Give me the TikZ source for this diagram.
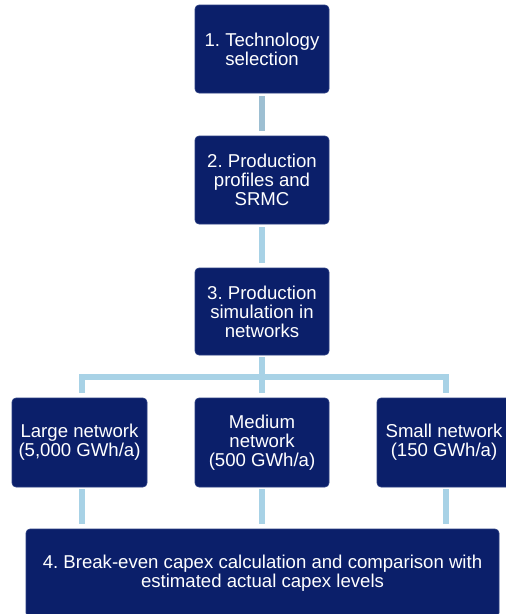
\documentclass[tikz,border=0pt]{standalone}
\usepackage{fontspec}
\setmainfont{Liberation Sans}
\frenchspacing
\definecolor{navy}{HTML}{0B1F6A}
\definecolor{navyedge}{HTML}{2A3E82}
\definecolor{connA}{HTML}{9DBFD2}
\definecolor{connB}{HTML}{A8D2E6}
\begin{document}
\begin{tikzpicture}[x=1pt,y=-1pt,
  stepbox/.style={draw=navyedge, line width=0.6pt, fill=navy, rounded corners=4pt,
    text=white, align=center, inner sep=0pt, minimum width=134pt, minimum height=88pt,
    font=\fontsize{18.6}{19}\selectfont\frenchspacing},
  conn/.style={line width=6pt, connB, line cap=butt},
  connTop/.style={line width=6pt, connA, line cap=butt}]
\useasboundingbox (0,0) rectangle (506,614);
\clip (0,0) rectangle (506,614);
\node[stepbox] (b1) at (262,49) {1. Technology\\selection};
\node[stepbox] (b2) at (262,180) {2. Production\\profiles and\\SRMC};
\node[stepbox, minimum height=87pt] (b3) at (262,311.5) {3. Production\\simulation in\\networks};
\node[stepbox, minimum width=135pt, minimum height=89pt] (large) at (79.5,442.5) {Large network\\(5,000 GWh/a)};
\node[stepbox, minimum height=89pt] (medium) at (262,442.5) {Medium\\network\\(500 GWh/a)};
\node[stepbox, minimum height=89pt] (small) at (444,442.5) {Small network\\(150 GWh/a)};
\node[stepbox, minimum width=473pt, minimum height=88pt] (b4) at (262.5,573) {4. Break-even capex calculation and comparison with\\estimated actual capex levels};
\coordinate (hb) at (262,377);
% vertical connectors
\draw[connTop] ([yshift=-3pt]b1.south) -- ([yshift=5pt]b2.north);
\draw[conn] ([yshift=-3pt]b2.south) -- ([yshift=5pt]b3.north);
% tree
\draw[conn] ([yshift=-2pt]b3.south) -- ([yshift=5pt]medium.north);
\draw[conn, line join=miter] ([xshift=2pt,yshift=5pt]large.north) |- (hb) -| ([xshift=2pt,yshift=5pt]small.north);
% drops to box 4
\draw[conn] ([xshift=2pt,yshift=-2pt]large.south) -- ([xshift=2pt,yshift=5pt]large.south |- b4.north);
\draw[conn] ([yshift=-2pt]medium.south) -- ([yshift=5pt]medium.south |- b4.north);
\draw[conn] ([xshift=2pt,yshift=-2pt]small.south) -- ([xshift=2pt,yshift=5pt]small.south |- b4.north);
\end{tikzpicture}
\end{document}
